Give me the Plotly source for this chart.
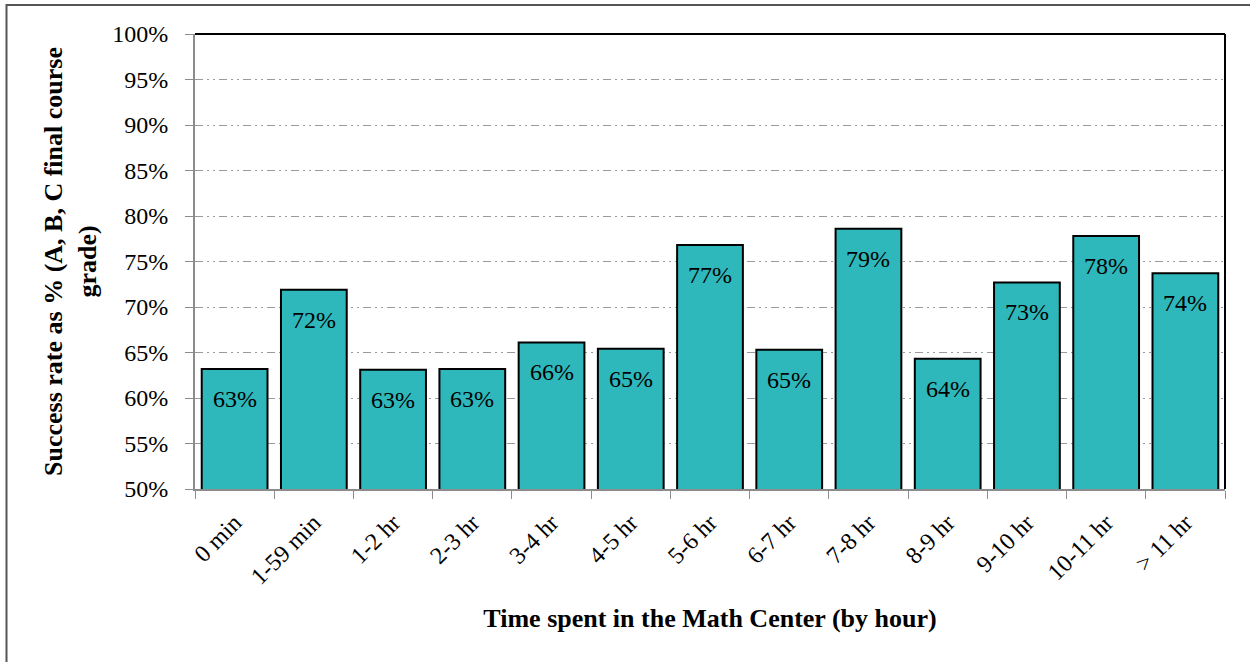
import plotly.graph_objects as go

categories = ["0 min", "1-59 min", "1-2 hr", "2-3 hr", "3-4 hr", "4-5 hr", "5-6 hr",
              "6-7 hr", "7-8 hr", "8-9 hr", "9-10 hr", "10-11 hr", "> 11 hr"]
success_rate = [0.632, 0.719, 0.631, 0.632, 0.661, 0.654, 0.768,
                0.653, 0.786, 0.643, 0.727, 0.778, 0.737]
y_ticks = [0.50, 0.55, 0.60, 0.65, 0.70, 0.75, 0.80, 0.85, 0.90, 0.95, 1.00]

FONT = "Liberation Serif, Times New Roman, serif"
BAR_COLOR = "#2EB8BB"

L, R, T, B = 195, 25, 34, 173
W, H = 1250, 662
pw, ph = W - L - R, H - T - B

fig = go.Figure()
fig.add_trace(go.Bar(
    x=categories, y=success_rate,
    marker=dict(color=BAR_COLOR, line=dict(color="black", width=2)),
    hoverinfo="x+y",
))

for c, v in zip(categories, success_rate):
    fig.add_annotation(x=c, y=v, text=f"{round(v*100):d}%", showarrow=False,
                       yanchor="top", yshift=-15,
                       font=dict(family=FONT, size=24, color="black"))

fig.update_layout(
    width=W, height=H,
    margin=dict(l=L, r=R, t=T, b=B),
    paper_bgcolor="white", plot_bgcolor="white",
    bargap=0.17,
    showlegend=False,
    font=dict(family=FONT, size=24, color="black"),
    xaxis=dict(
        tickangle=-45, tickson="boundaries", ticks="outside", ticklen=8,
        tickcolor="#8c8c8c", showline=True, linecolor="#8c8c8c", linewidth=2,
        tickfont=dict(family=FONT, size=24),
        ticklabelstandoff=8,
        title=dict(text="<b>Time spent in the Math Center (by hour)</b>",
                   font=dict(family=FONT, size=26), standoff=20),
        showgrid=False, mirror=False,
    ),
    yaxis=dict(
        range=[0.5, 1.0], tickvals=y_ticks, tickformat=".0%",
        ticks="outside", ticklen=8, tickcolor="#8c8c8c",
        showline=True, linecolor="#8c8c8c", linewidth=2,
        tickfont=dict(family=FONT, size=24),
        ticklabelstandoff=12,
        showgrid=True, gridcolor="#9a9a9a", gridwidth=1.3,
        griddash="8px,4px,2px,4px,2px,4px",
        zeroline=False,
        title=dict(text="<b>Success rate as % (A, B, C final course<br>grade)</b>",
                   font=dict(family=FONT, size=26), standoff=8),
    ),
)

# black frame top/right of plot area
fig.add_shape(type="line", xref="paper", yref="paper", x0=0, x1=1, y0=1, y1=1,
              line=dict(color="black", width=2))
fig.add_shape(type="line", xref="paper", yref="paper", x0=1, x1=1, y0=0, y1=1,
              line=dict(color="black", width=2))
# outer border of the image
fig.add_shape(type="rect", xref="paper", yref="paper",
              x0=(6.5 - L) / pw, x1=(W + 20 - L) / pw,
              y0=(T + ph - (H + 20)) / ph, y1=(T + ph - 5) / ph,
              line=dict(color="#555555", width=2), layer="below")

fig.write_html("out.html", config={"displayModeBar": False},
               post_script="document.body.style.margin='0';document.body.style.overflow='hidden';")
